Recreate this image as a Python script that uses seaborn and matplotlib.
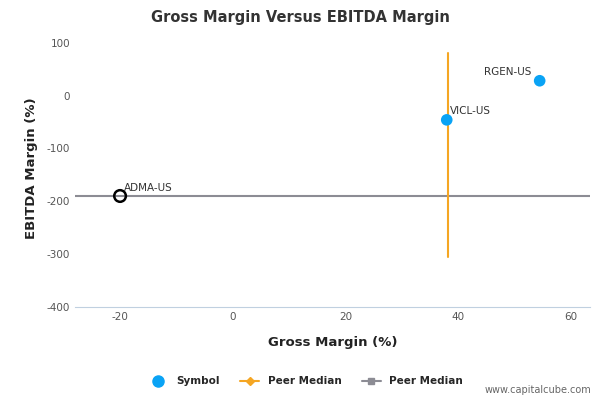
import numpy as np
import pandas as pd
import seaborn as sns
import matplotlib.pyplot as plt

symbols = ['RGEN-US', 'VICL-US']
gross = [54.5, 38.0]
ebitda = [28, -46]
company = 'ADMA-US'
company_gross = -20
company_ebitda = -190
peer_median_gross = 38.2
peer_median_ebitda = -190
vline_range = [-305, 80]

sns.set_style('white')
plt.rcParams['font.family'] = ['DejaVu Sans']
plt.rcParams['axes.unicode_minus'] = False

fig = plt.figure(figsize=(6, 4), dpi=100)
ax = fig.add_axes([0.125, 0.2325, 0.858, 0.6925])

ax.axhline(peer_median_ebitda, color='#8c8c94', lw=1.5, zorder=1)
ax.plot([peer_median_gross, peer_median_gross], vline_range, color='#f5a623', lw=1.5, zorder=1)

df = pd.DataFrame({'gross': gross, 'ebitda': ebitda, 'sym': symbols})
sns.scatterplot(data=df, x='gross', y='ebitda', ax=ax, color='#0aa3f5', s=70,
                edgecolor='none', zorder=3, legend=False)
ax.scatter([company_gross], [company_ebitda], s=70, facecolor='none',
           edgecolor='black', linewidth=1.8, zorder=3)

ax.text(gross[0] - 1.5, ebitda[0] + 8, symbols[0], ha='right', va='bottom', fontsize=7.5, color='#333333')
ax.text(gross[1] + 0.5, ebitda[1] + 8, symbols[1], ha='left', va='bottom', fontsize=7.5, color='#333333')
ax.text(company_gross + 0.7, company_ebitda + 6, company, ha='left', va='bottom', fontsize=7.5, color='#333333')

ax.set_xlim(-28, 63.4)
ax.set_ylim(-400, 124)
ax.set_xticks([-20, 0, 20, 40, 60])
ax.set_yticks([100, 0, -100, -200, -300, -400])
ax.tick_params(labelsize=7.5, colors='#555555', length=0)
for s in ['top', 'right', 'left']:
    ax.spines[s].set_visible(False)
ax.spines['bottom'].set_color('#c0d0e0')
ax.set_xlabel('Gross Margin (%)', fontsize=9.5, fontweight='bold', color='#222222', labelpad=10)
ax.set_ylabel('EBITDA Margin (%)', fontsize=9.5, fontweight='bold', color='#222222', labelpad=6)
fig.suptitle('Gross Margin Versus EBITDA Margin', x=0.5, y=0.975, fontsize=10.5,
             fontweight='bold', color='#333333')

h1 = plt.Line2D([], [], marker='o', color='#0aa3f5', ls='none', markersize=8)
h2 = plt.Line2D([], [], marker='D', color='#f5a623', markersize=4, lw=1.5)
h3 = plt.Line2D([], [], marker='s', color='#8c8c94', markersize=5, lw=1.5)
leg = fig.legend([h1, h2, h3], ['Symbol', 'Peer Median', 'Peer Median'], loc='center',
                 bbox_to_anchor=(0.51, 0.047), ncol=3, frameon=False,
                 prop={'size': 7.5, 'weight': 'bold'}, handlelength=1.8, columnspacing=2)
fig.text(0.985, 0.018, 'www.capitalcube.com', ha='right', fontsize=7, color='#666666')

fig.savefig('out.png', dpi=100)
